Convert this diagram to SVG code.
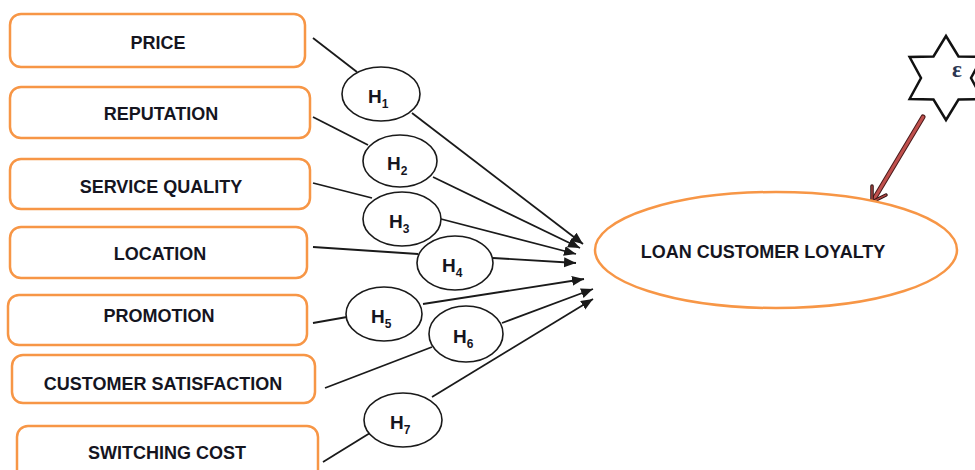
<svg xmlns="http://www.w3.org/2000/svg" width="975" height="470" viewBox="0 0 975 470">
<defs>
<style>
.box{fill:#fff;stroke:#f79646;stroke-width:2.5}
.lbl{font-family:"Liberation Sans",Arial,sans-serif;font-weight:bold;font-size:18px;fill:#15151f;text-anchor:middle}
.hyp{fill:#fff;stroke:#1a1a1a;stroke-width:1.6}
.hl{font-family:"Liberation Sans",Arial,sans-serif;font-weight:bold;font-size:19px;fill:#15151f}
.sub{font-size:12px}
.con{fill:none;stroke:#1a1a1a;stroke-width:1.8}
</style>
<marker id="ah" markerUnits="userSpaceOnUse" markerWidth="14" markerHeight="12" refX="12" refY="5" orient="auto">
<path d="M0,0 L12,5 L0,10 Z" fill="#1a1a1a"/>
</marker>
</defs>
<rect width="975" height="470" fill="#fff"/>

<g id="connectors">
<polyline class="con" points="313,38 357,72"/>
<line class="con" x1="412" y1="113" x2="583" y2="244" marker-end="url(#ah)"/>
<polyline class="con" points="313,117 368,145"/>
<line class="con" x1="433" y1="177" x2="580" y2="248" marker-end="url(#ah)"/>
<polyline class="con" points="313,183 372,198"/>
<line class="con" x1="441" y1="219" x2="576" y2="254" marker-end="url(#ah)"/>
<polyline class="con" points="313,247 418,254"/>
<line class="con" x1="493" y1="258" x2="576" y2="263" marker-end="url(#ah)"/>
<polyline class="con" points="313,323 347,317"/>
<line class="con" x1="423" y1="304" x2="584" y2="279" marker-end="url(#ah)"/>
<polyline class="con" points="325,388 432,347"/>
<line class="con" x1="502" y1="323" x2="593" y2="289" marker-end="url(#ah)"/>
<polyline class="con" points="323,462 370,433"/>
<line class="con" x1="432" y1="397" x2="593" y2="299" marker-end="url(#ah)"/>
<g id="error-arrow">
<line x1="923" y1="117" x2="874" y2="199" stroke="#4a1a1a" stroke-width="5" stroke-linecap="round"/>
<line x1="923" y1="117" x2="874" y2="199" stroke="#c0504d" stroke-width="3" stroke-linecap="round"/>
<polyline points="872,186 872,202 886,195" fill="none" stroke="#2a1010" stroke-width="3.5" stroke-linejoin="miter" stroke-linecap="round"/>
<polyline points="872,186 872,202 886,195" fill="none" stroke="#a84442" stroke-width="1.5" stroke-linecap="round"/>
</g>
</g>

<g id="price"><rect class="box" x="10" y="14" width="295" height="53" rx="11"/><text class="lbl" x="158" y="49">PRICE</text></g>
<g id="reputation"><rect class="box" x="10" y="87" width="300" height="51" rx="11"/><text class="lbl" x="161" y="120">REPUTATION</text></g>
<g id="service-quality"><rect class="box" x="10" y="159" width="300" height="50" rx="11"/><text class="lbl" x="161" y="193">SERVICE QUALITY</text></g>
<g id="location"><rect class="box" x="10" y="227" width="297" height="51" rx="11"/><text class="lbl" x="160" y="260">LOCATION</text></g>
<g id="promotion"><rect class="box" x="8" y="295" width="299" height="50" rx="11"/><text class="lbl" x="159" y="322">PROMOTION</text></g>
<g id="customer-satisfaction"><rect class="box" x="12" y="355" width="303" height="48" rx="11"/><text class="lbl" x="163" y="390">CUSTOMER SATISFACTION</text></g>
<g id="switching-cost"><rect class="box" x="17" y="426" width="301" height="60" rx="11"/><text class="lbl" x="167" y="459">SWITCHING COST</text></g>

<g id="h1"><ellipse class="hyp" cx="381" cy="94" rx="39" ry="27"/><text class="hl" x="368" y="103">H<tspan class="sub" dy="5">1</tspan></text></g>
<g id="h2"><ellipse class="hyp" cx="400" cy="161" rx="37" ry="26"/><text class="hl" x="387" y="170">H<tspan class="sub" dy="5">2</tspan></text></g>
<g id="h3"><ellipse class="hyp" cx="402" cy="219" rx="39" ry="27"/><text class="hl" x="389" y="228">H<tspan class="sub" dy="5">3</tspan></text></g>
<g id="h4"><ellipse class="hyp" cx="455" cy="263" rx="38" ry="27"/><text class="hl" x="442" y="272">H<tspan class="sub" dy="5">4</tspan></text></g>
<g id="h5"><ellipse class="hyp" cx="384" cy="314" rx="38" ry="27"/><text class="hl" x="371" y="323">H<tspan class="sub" dy="5">5</tspan></text></g>
<g id="h6"><ellipse class="hyp" cx="466" cy="334" rx="37" ry="28"/><text class="hl" x="453" y="343">H<tspan class="sub" dy="5">6</tspan></text></g>
<g id="h7"><ellipse class="hyp" cx="403" cy="420" rx="39" ry="27"/><text class="hl" x="390" y="429">H<tspan class="sub" dy="5">7</tspan></text></g>

<g id="loyalty"><ellipse cx="776" cy="250" rx="181" ry="58" fill="#fff" stroke="#f79646" stroke-width="2.5"/><text class="lbl" x="763" y="258">LOAN CUSTOMER LOYALTY</text></g>

<g id="error-star">
<polygon points="946,36 958.5,56.4 982.4,57 971,78 982.4,99 958.5,99.6 946,120 933.5,99.6 909.6,99 921,78 909.6,57 933.5,56.4" fill="#fff" stroke="#111" stroke-width="2.5" stroke-linejoin="miter"/>
<text x="957" y="77" font-family="'Liberation Serif','Times New Roman',serif" font-weight="bold" font-size="23" fill="#2a3550" text-anchor="middle">ε</text>
</g>
</svg>
